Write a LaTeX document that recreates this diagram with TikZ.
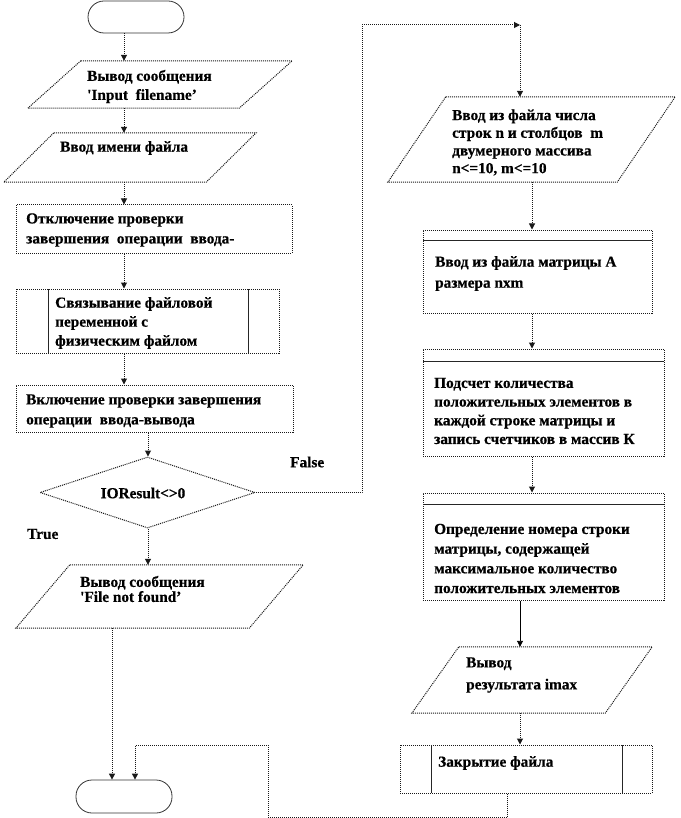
\documentclass[tikz,border=0pt]{standalone}
\usepackage{fontspec}
\setmainfont{Liberation Serif}[BoldFeatures={FakeBold=0.6}]
\usetikzlibrary{arrows.meta,shapes.geometric,calc}
\newcommand\drawpara[2]{\draw[dl] ($(#1.north west)+(#2,0)$) -- (#1.north east) -- ($(#1.south east)+(-#2,0)$) -- (#1.south west) -- cycle;}
\begin{document}
\begin{tikzpicture}[x=1pt,y=-1pt,
  dl/.style={draw=black!90, dash pattern=on 1pt off 1pt, line width=1pt},
  tip/.style={-{Triangle[width=6pt,length=6pt]}},
  conn/.style={dl, tip},
  sconn/.style={draw=black, line width=0.9pt, tip},
  boxs/.style={dl, rectangle, inner sep=0pt},
  hid/.style={rectangle, inner sep=0pt},
  term/.style={draw=black!80, line width=0.8pt, rectangle, rounded corners=16pt, inner sep=0pt},
  dia/.style={dl, diamond, inner sep=0pt},
  hline/.style={draw=black!85, line width=0.9pt},
  txt/.style={font=\bfseries\fontsize{15.3}{#1}\selectfont, align=left, inner sep=0pt, anchor=west},
  txt/.default=20
]
\useasboundingbox (0,0) rectangle (680,818);

% ---- left column shapes
\node[term, minimum width=96, minimum height=32] (start) at (136,17) {};
\node[hid, minimum width=264, minimum height=47] (p1) at (160,84.5) {};
\drawpara{p1}{53}
\node[hid, minimum width=252, minimum height=49] (p2) at (130,157.5) {};
\drawpara{p2}{50}
\node[boxs, minimum width=276, minimum height=48] (r1) at (154,229) {};
\node[boxs, minimum width=263, minimum height=64] (pp1) at (147.5,321) {};
\draw[hline] (48,289) -- (48,353) (248,289) -- (248,353);
\node[boxs, minimum width=277, minimum height=47] (r3) at (154.5,408.5) {};
\node[dia, minimum width=215, minimum height=71] (d) at (147.5,492.5) {};
\node[hid, minimum width=287, minimum height=63] (p4) at (159.5,596.5) {};
\drawpara{p4}{54}
\node[term, minimum width=96, minimum height=33] (end) at (124,796.5) {};

% ---- right column shapes
\node[hid, minimum width=287, minimum height=85] (p5) at (531.5,139.5) {};
\drawpara{p5}{58}
\node[boxs, minimum width=229, minimum height=83] (r6) at (537.5,271.5) {};
\draw[hline] (423,240) -- (652,240);
\node[boxs, minimum width=241, minimum height=107] (r7) at (543.5,402.5) {};
\draw[hline] (423,361) -- (664,361);
\node[boxs, minimum width=241, minimum height=107] (r8) at (543.5,546.5) {};
\draw[hline] (423,504) -- (664,504);
\node[hid, minimum width=240, minimum height=66] (p9) at (532,680) {};
\drawpara{p9}{47}
\node[boxs, minimum width=252, minimum height=48] (pp2) at (526,769) {};
\draw[hline] (431,745) -- (431,793) (622,745) -- (622,793);

% ---- texts
\node[txt=19] (t1) at (87,86.5) {Вывод сообщения\\\textquotesingle Input\ \ filename’};
\node[txt] (t2) at (60,148) {Ввод имени файла};
\node[txt] (t3) at (26,230) {Отключение проверки\\завершения\ \ операции\ \ ввода-};
\node[txt=19] (t4) at (55,323) {Связывание файловой\\переменной с\\физическим файлом};
\node[txt] (t5) at (26,411) {Включение проверки завершения\\операции\ \ ввода-вывода};
\node[txt, anchor=center] (tD) at (143,493) {IOResult<>0};
\node[txt] (tF) at (290,462) {False};
\node[txt] (tT) at (27,534) {True};
\node[txt=15] (t6) at (80,589) {Вывод сообщения\\\textquotesingle File not found’};
\node[txt=17.7] (t7) at (452,142.5) {Ввод из файла числа\\строк n и столбцов\ \ m\\двумерного массива\\n<=10, m<=10};
\node[txt=21] (t8) at (435,273.5) {Ввод из файла матрицы А\\размера nxm};
\node[txt=18.7] (t9) at (434,411) {Подсчет количества\\положительных элементов в\\каждой строке матрицы и\\запись счетчиков в массив К};
\node[txt=19.7] (t10) at (434,558.5) {Определение номера строки\\матрицы, содержащей\\максимальное количество\\положительных элементов};
\node[txt=22] (t11) at (466,675) {Вывод\\результата imax};
\node[txt] (t12) at (438,763) {Закрытие файла};

% ---- connector helper coordinates
\coordinate (cA) at (124,0);
\coordinate (cB) at (148,0);
\coordinate (cC) at (112,0);
\coordinate (cR) at (532,0);
\coordinate (cS) at (520,0);
\coordinate (fa) at (362,25);
\coordinate (fb) at (520,25);
\coordinate (g0) at (507,0);
\coordinate (g1) at (507,817);
\coordinate (g2) at (268,817);
\coordinate (g3) at (268,745);
\coordinate (g4) at (135,745);

% ---- connectors
\draw[conn] (cA |- start.south) -- (cA |- p1.north);
\draw[conn] (cA |- p1.south) -- (cA |- p2.north);
\draw[conn] (cA |- p2.south) -- (cA |- r1.north);
\draw[conn] (cA |- r1.south) -- (cA |- pp1.north);
\draw[conn] (cA |- pp1.south) -- (cA |- r3.north);
\draw[conn] (cB |- r3.south) -- (cB |- d.north);
\draw[conn] (cB |- d.south) -- (cB |- p4.north);
\draw[conn] (cC |- p4.south) -- (cC |- end.north);
\draw[conn] (d.east) -| (fa) -- (fb);
\draw[conn] (fb) -- (fb |- p5.north);
\draw[conn] (cR |- p5.south) -- (cR |- r6.north);
\draw[conn] (cR |- r6.south) -- (cR |- r7.north);
\draw[conn] (cR |- r7.south) -- (cR |- r8.north);
\draw[sconn] (cS |- r8.south) -- (cS |- p9.north);
\draw[conn] (cS |- p9.south) -- (cS |- pp2.north);
\draw[conn] (g0 |- pp2.south) -- (g1) -- (g2) -- (g3) -- (g4) -- (g4 |- end.north);
\end{tikzpicture}
\end{document}
